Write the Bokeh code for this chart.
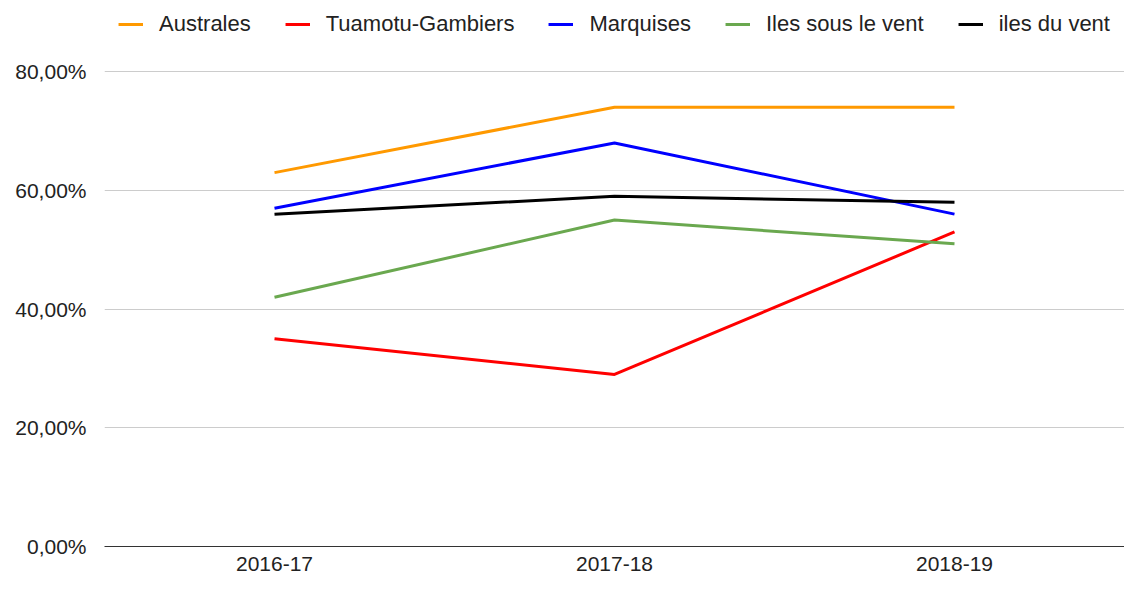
from bokeh.plotting import figure
from bokeh.models import FactorRange, Range1d, FixedTicker, CustomJSTickFormatter, Legend, LegendItem
from bokeh.embed import file_html
from bokeh.resources import INLINE

years = ["2016-17", "2017-18", "2018-19"]
australes = [63, 74, 74]
tuamotu = [35, 29, 53]
marquises = [57, 68, 56]
sous_le_vent = [42, 55, 51]
du_vent = [56, 59, 58]

series = [
    ("Australes", australes, "#ff9900"),
    ("Tuamotu-Gambiers", tuamotu, "#ff0000"),
    ("Marquises", marquises, "#0000ff"),
    ("Iles sous le vent", sous_le_vent, "#6aa84f"),
    ("iles du vent", du_vent, "#000000"),
]
y_ticks = [0, 20, 40, 60, 80]

FONT = "Liberation Sans"

# frame extends to the top of the figure so the legend can sit above the 80% line
p = figure(x_range=FactorRange(*years), y_range=Range1d(0, 92),
           width=1124, height=574, output_backend="svg", toolbar_location=None,
           min_border_left=104, min_border_right=0, min_border_top=0, min_border_bottom=28)
p.outline_line_color = None
p.background_fill_color = "white"

items = []
for name, vals, color in series:
    r = p.line(years, vals, line_color=color, line_width=3)
    items.append(LegendItem(label=name, renderers=[r]))

p.xgrid.grid_line_color = None
p.ygrid.grid_line_color = "#cccccc"
p.ygrid.grid_line_width = 1

p.yaxis.ticker = FixedTicker(ticks=y_ticks)
p.yaxis.formatter = CustomJSTickFormatter(code="return tick.toFixed(2).replace('.', ',') + '%';")
p.yaxis.axis_line_color = None
p.yaxis.major_tick_line_color = None
p.yaxis.minor_tick_line_color = None
p.yaxis.major_label_standoff = 12
p.yaxis.major_label_text_font = FONT
p.yaxis.major_label_text_font_size = "21px"
p.yaxis.major_label_text_color = "#222222"

p.xaxis.axis_line_color = "#333333"
p.xaxis.axis_line_width = 1
p.xaxis.major_tick_line_color = None
p.xaxis.minor_tick_line_color = None
p.xaxis.major_label_standoff = 4
p.xaxis.major_label_text_font = FONT
p.xaxis.major_label_text_font_size = "21px"
p.xaxis.major_label_text_color = "#222222"

legend = Legend(items=items, orientation="horizontal", location="top_center",
                glyph_width=25, glyph_height=20, label_standoff=16, spacing=34,
                padding=0, margin=11, border_line_alpha=0, background_fill_alpha=0,
                label_text_font=FONT, label_text_font_size="22px", label_text_color="#222222")
p.add_layout(legend, "center")

open("out.html", "w").write(file_html(p, INLINE))
